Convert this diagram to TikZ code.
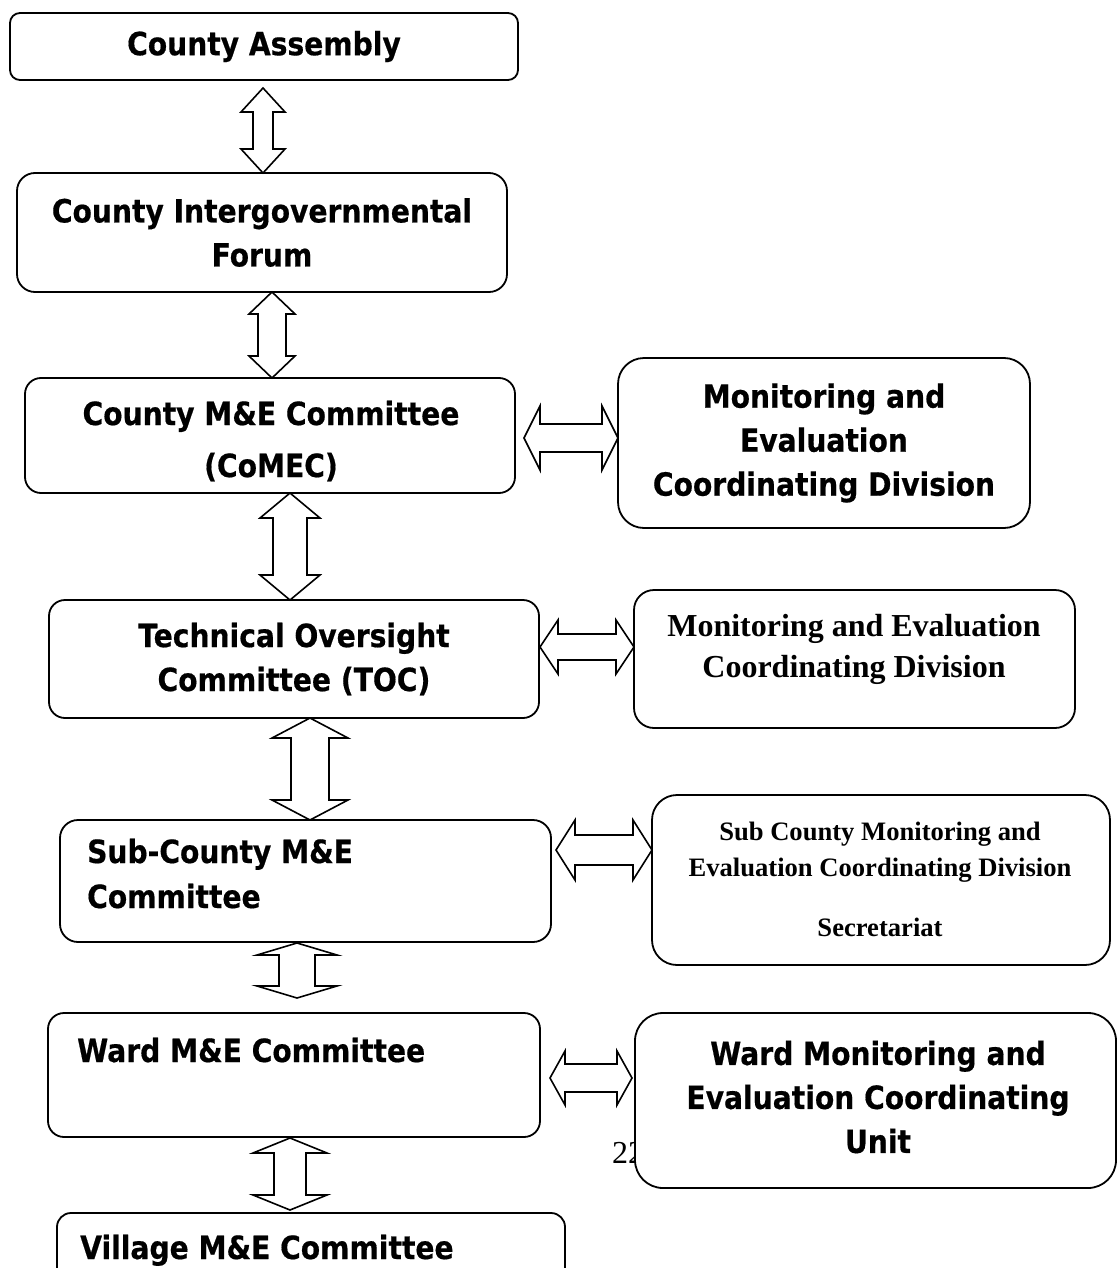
\documentclass[tikz,border=0pt]{standalone}
\usepackage{fontspec}
\usetikzlibrary{calc}
\newfontfamily\tah[FakeStretch=0.88, BoldFeatures={FakeBold=0.5}]{DejaVu Sans}
\newfontfamily\tnr{Liberation Serif}
\tikzset{
  box/.style={draw=black, line width=1.8pt, fill=white, rounded corners=#1, inner sep=0pt, outer sep=0pt},
  box/.default=14pt,
  ttext/.style={font=\tah\bfseries\fontsize{32}{44}\selectfont, align=center, inner sep=0pt},
  tleft/.style={font=\tah\bfseries\fontsize{32}{45}\selectfont, align=left, inner sep=0pt, anchor=base west},
  stext/.style={font=\tnr\bfseries\fontsize{32}{41}\selectfont, align=center, inner sep=0pt},
  ssmall/.style={font=\tnr\bfseries\fontsize{26.6}{36}\selectfont, align=center, inner sep=0pt},
  pagenum/.style={font=\tnr\fontsize{32}{38}\selectfont, inner sep=0pt, anchor=base west},
  barrow/.style={draw=black, line width=1.6pt, fill=white, line join=miter},
}
% vertical double block arrow: top node, bottom node, cx, head half, shaft half, head length, gap top, gap bottom
\newcommand\varr[8]{%
  \draw[barrow] let \p1=(#1.south), \p2=(#2.north) in
    (#3pt,\y1-#7pt) -- (#3pt+#4pt,\y1-#7pt-#6pt) -- (#3pt+#5pt,\y1-#7pt-#6pt)
    -- (#3pt+#5pt,\y2+#8pt+#6pt) -- (#3pt+#4pt,\y2+#8pt+#6pt) -- (#3pt,\y2+#8pt)
    -- (#3pt-#4pt,\y2+#8pt+#6pt) -- (#3pt-#5pt,\y2+#8pt+#6pt)
    -- (#3pt-#5pt,\y1-#7pt-#6pt) -- (#3pt-#4pt,\y1-#7pt-#6pt) -- cycle;}
% horizontal double block arrow: left node, right node, cy (down), head half, shaft half, head length, gap left, gap right
\newcommand\harr[8]{%
  \draw[barrow] let \p1=(#1.east), \p2=(#2.west) in
    (\x1+#7pt,-#3pt) -- (\x1+#7pt+#6pt,-#3pt+#4pt) -- (\x1+#7pt+#6pt,-#3pt+#5pt)
    -- (\x2-#8pt-#6pt,-#3pt+#5pt) -- (\x2-#8pt-#6pt,-#3pt+#4pt) -- (\x2-#8pt,-#3pt)
    -- (\x2-#8pt-#6pt,-#3pt-#4pt) -- (\x2-#8pt-#6pt,-#3pt-#5pt)
    -- (\x1+#7pt+#6pt,-#3pt-#5pt) -- (\x1+#7pt+#6pt,-#3pt-#4pt) -- cycle;}
\begin{document}
\begin{tikzpicture}[x=1pt,y=-1pt]
\useasboundingbox (0,0) rectangle (1117,1268);
\clip (0,0) rectangle (1117,1268);
\fill[white] (0,0) rectangle (1117,1268);

% left column
\node[box=10pt, minimum width=508pt, minimum height=67pt, ttext] (A) at (264,46.5) {County Assembly};
\node[box=18pt, minimum width=490pt, minimum height=119pt, ttext] (B) at (262,232.5) {County Intergovernmental\\Forum};
\node[box=16pt, minimum width=490pt, minimum height=115pt] (C) at (270,435.5) {};
\node[ttext] (Ct) at (271,441) {County M\&E Committee\\[8pt](CoMEC)};
\node[box=16pt, minimum width=490pt, minimum height=118pt, ttext] (E) at (294,659) {Technical Oversight\\Committee (TOC)};
\node[box=18pt, minimum width=491pt, minimum height=122pt] (G) at (305.5,881) {};
\node[tleft] (Gt) at (87,908) {Sub-County M\&E\\Committee};
\node[box=16pt, minimum width=492pt, minimum height=124pt] (I) at (294,1075) {};
\node[tleft] (It) at (77,1062) {Ward M\&E Committee};
\node[box=14pt, minimum width=508pt, minimum height=87pt] (K) at (311,1256.5) {};
\node[tleft] (Kt) at (80,1259) {Village M\&E Committee};

% right column
\node[box=26pt, minimum width=412pt, minimum height=170pt, ttext] (D) at (824,443) {Monitoring and\\Evaluation\\Coordinating Division};
\node[box=20pt, minimum width=441pt, minimum height=138pt] (F) at (854.5,659) {};
\node[stext] (Ft) at (854,649) {Monitoring and Evaluation\\Coordinating Division};
\node[box=25pt, minimum width=458pt, minimum height=170pt] (H) at (881,880) {};
\node[ssmall] (Ht) at (880,879) {Sub County Monitoring and\\Evaluation Coordinating Division\\[24pt]Secretariat};
\node[pagenum] (pg) at (612,1163) {22};
\node[box=28pt, minimum width=481pt, minimum height=175pt] (J) at (875.5,1100.5) {};
\node[ttext] (Jt) at (878,1097) {Ward Monitoring and\\Evaluation Coordinating\\Unit};

% vertical arrows
\varr{A}{B}{263}{22}{10}{24}{8}{0}
\varr{B}{C}{272}{23}{14}{22}{0}{0}
\varr{C}{E}{290}{30}{17}{25}{0}{0}
\varr{E}{G}{310}{38}{19}{20}{0}{0}
\varr{G}{I}{297}{40}{18}{12}{1}{15}
\varr{I}{K}{290}{37}{16}{15}{1}{3}

% horizontal arrows
\harr{C}{D}{438}{32}{14}{16}{9}{0}
\harr{E}{F}{647}{27}{13}{18}{1}{0}
\harr{G}{H}{850}{30}{15}{19}{5}{0}
\harr{I}{J}{1078}{27}{14}{15}{10}{3}
\end{tikzpicture}
\end{document}
